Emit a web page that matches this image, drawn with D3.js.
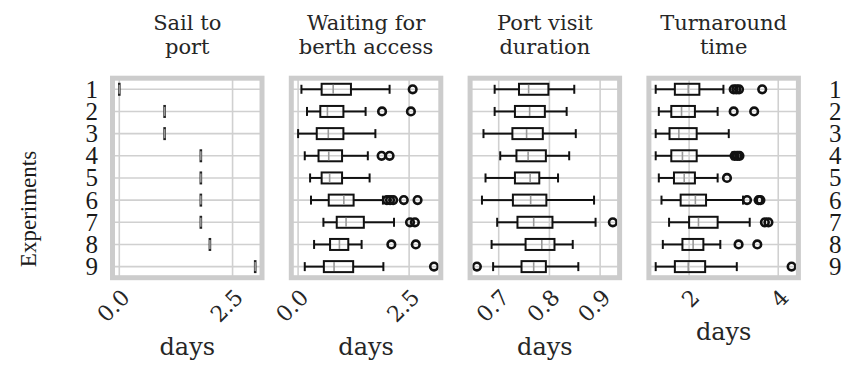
<!DOCTYPE html>
<html><head><meta charset="utf-8">
<script src="https://cdn.jsdelivr.net/npm/d3@7"></script>
<style>body{margin:0;background:#fff}</style>
</head><body><svg id="c" width="844" height="365"></svg>
<script>
const experiments = [1,2,3,4,5,6,7,8,9];
const panelTitles = [["Sail to","port"],["Waiting for","berth access"],["Port visit","duration"],["Turnaround","time"]];
const xLabel = "days";
const yLabel = "Experiments";

// Sail to port: constant per experiment
const sailToPort = [0.0, 1.0, 1.0, 1.8, 1.8, 1.8, 1.8, 2.0, 3.0];

// [whiskerLow, q1, median, q3, whiskerHigh]
const waitingStats = [
  [0.075,0.53,0.79,1.19,2.06],[0.20,0.50,0.66,1.02,1.52],[0.00,0.42,0.68,1.02,1.74],
  [0.15,0.46,0.69,0.99,1.57],[0.27,0.53,0.71,0.99,1.61],[0.29,0.69,1.03,1.25,1.91],
  [0.57,0.87,1.08,1.48,2.16],[0.36,0.72,0.93,1.13,1.43],[0.15,0.58,0.81,1.24,1.92]];
const waitingOutliers = [[2.58],[1.89,2.54],[],[1.88,2.06],[],[2.00,2.07,2.14,2.38,2.69],[2.52,2.63],[2.10,2.65],[3.06]];

const portStats = [
  [0.692,0.740,0.759,0.798,0.849],[0.692,0.732,0.761,0.791,0.834],[0.670,0.727,0.755,0.787,0.852],
  [0.703,0.735,0.758,0.793,0.839],[0.674,0.732,0.762,0.780,0.817],[0.667,0.728,0.763,0.794,0.888],
  [0.697,0.737,0.769,0.806,0.891],[0.686,0.753,0.785,0.810,0.846],[0.689,0.745,0.769,0.793,0.857]];
const portOutliers = [[],[],[],[],[],[],[0.925],[],[0.657]];

const turnStats = [
  [1.25,1.68,1.98,2.23,2.77],[1.32,1.60,1.83,2.13,2.64],[1.25,1.56,1.77,2.17,2.89],
  [1.25,1.60,1.85,2.17,2.97],[1.32,1.66,1.89,2.13,2.64],[1.38,1.81,2.14,2.38,3.21],
  [1.55,2.00,2.21,2.64,3.36],[1.41,1.85,2.09,2.32,2.70],[1.25,1.68,1.98,2.36,3.07]];
const turnOutliers = [[3.00,3.06,3.12,3.64],[3.00,3.46],[],[3.02,3.08,3.13],[2.85],[3.30,3.56,3.60],[3.70,3.78],[3.11,3.53],[4.30]];

const tickValues = [[0,2.5],[0,2.5],[0.7,0.8,0.9],[2,4]];
const tickLabels = [["0.0","2.5"],["0.0","2.5"],["0.7","0.8","0.9"],["2","4"]];

const panels = [
  {stats: sailToPort.map(v=>[v,v,v,v,v]), outliers: sailToPort.map(()=>[])},
  {stats: waitingStats, outliers: waitingOutliers},
  {stats: portStats, outliers: portOutliers},
  {stats: turnStats, outliers: turnOutliers}
];

const svg = d3.select("#c");
const W = 149.5, plotTop = 78.2, plotBottom = 277.7;
const lefts = [112.5, 291.3, 470.1, 648.9];
const y = d3.scaleLinear().domain([0.5, 9.5]).range([plotTop, plotBottom]);
const gridCol = "#d0d0d0", spineCol = "#cccccc", txt = "#262626";
const dv = "'DejaVu Serif', serif", lib = "'Liberation Serif', 'Times New Roman', serif";
const boxH = 5.5, capH = 4.5;

panels.forEach((p, i) => {
  const all = p.stats.flat().concat(p.outliers.flat());
  const [mn, mx] = d3.extent(all);
  const pad = (mx - mn) * 0.05;
  const x = d3.scaleLinear().domain([mn - pad, mx + pad]).range([lefts[i], lefts[i] + W]);
  const g = svg.append("g");
  g.selectAll(".hg").data(experiments).join("line")
    .attr("x1", lefts[i]).attr("x2", lefts[i] + W)
    .attr("y1", d => y(d)).attr("y2", d => y(d))
    .attr("stroke", gridCol).attr("stroke-width", 1.6);
  g.selectAll(".vg").data(tickValues[i]).join("line")
    .attr("x1", d => x(d)).attr("x2", d => x(d))
    .attr("y1", plotTop).attr("y2", plotBottom)
    .attr("stroke", gridCol).attr("stroke-width", 1.6);
  p.stats.forEach((s, k) => {
    const yc = y(experiments[k]);
    const [wl, q1, md, q3, wh] = s;
    const b = g.append("g");
    if (q1 === q3) {
      b.append("line").attr("x1", x(q1)).attr("x2", x(q1)).attr("y1", yc - boxH - 1).attr("y2", yc + boxH + 1)
        .attr("stroke", "#222").attr("stroke-width", 2.6);
      b.append("line").attr("x1", x(md)).attr("x2", x(md)).attr("y1", yc - boxH + 1).attr("y2", yc + boxH - 1)
        .attr("stroke", "#999").attr("stroke-width", 1.6);
      return;
    }
    b.append("line").attr("x1", x(wl)).attr("x2", x(q1)).attr("y1", yc).attr("y2", yc).attr("stroke", "#111").attr("stroke-width", 2);
    b.append("line").attr("x1", x(q3)).attr("x2", x(wh)).attr("y1", yc).attr("y2", yc).attr("stroke", "#111").attr("stroke-width", 2);
    [wl, wh].forEach(v => b.append("line").attr("x1", x(v)).attr("x2", x(v)).attr("y1", yc - capH).attr("y2", yc + capH).attr("stroke", "#111").attr("stroke-width", 2));
    b.append("rect").attr("x", x(q1)).attr("y", yc - boxH).attr("width", x(q3) - x(q1)).attr("height", 2 * boxH)
      .attr("fill", "none").attr("stroke", "#111").attr("stroke-width", 2);
    b.append("line").attr("x1", x(md)).attr("x2", x(md)).attr("y1", yc - boxH + 1).attr("y2", yc + boxH - 1)
      .attr("stroke", "#999").attr("stroke-width", 1.6);
    b.selectAll("circle").data(p.outliers[k]).join("circle")
      .attr("cx", d => x(d)).attr("cy", yc).attr("r", 3.8)
      .attr("fill", "none").attr("stroke", "#111").attr("stroke-width", 2.6);
  });
  g.append("rect").attr("x", lefts[i]).attr("y", plotTop).attr("width", W).attr("height", plotBottom - plotTop)
    .attr("fill", "none").attr("stroke", spineCol).attr("stroke-width", 5);
  const cx = lefts[i] + W / 2;
  panelTitles[i].forEach((t, j) => {
    g.append("text").attr("x", cx).attr("y", 30 + j * 23.5).attr("text-anchor", "middle")
      .attr("font-family", dv).attr("font-size", 21).attr("fill", txt).text(t);
  });
  let maxBottom = 0;
  tickValues[i].forEach((v, j) => {
    const tg = g.append("g").attr("transform", `translate(${x(v)},287) rotate(-45)`);
    const t = tg.append("text").attr("text-anchor", "end").attr("dy", "0.76em")
      .attr("font-family", dv).attr("font-size", 22).attr("fill", txt).text(tickLabels[i][j]);
    const r = t.node().getBoundingClientRect();
    maxBottom = Math.max(maxBottom, r.bottom);
  });
  g.append("text").attr("x", cx).attr("y", maxBottom + 28).attr("text-anchor", "middle")
    .attr("font-family", dv).attr("font-size", 24).attr("fill", txt).text(xLabel);
});

svg.selectAll(".yl").data(experiments).join("text")
  .attr("x", 98).attr("y", d => y(d)).attr("dy", "0.34em").attr("text-anchor", "end")
  .attr("font-family", lib).attr("font-size", 25).attr("fill", "#1a1a1a").text(d => d);
svg.selectAll(".yr").data(experiments).join("text")
  .attr("x", 829).attr("y", d => y(d)).attr("dy", "0.34em").attr("text-anchor", "start")
  .attr("font-family", lib).attr("font-size", 25).attr("fill", "#1a1a1a").text(d => d);
svg.append("text").attr("transform", "translate(36,209) rotate(-90)").attr("text-anchor", "middle")
  .attr("font-family", lib).attr("font-size", 23).attr("fill", "#1a1a1a").text(yLabel);
</script></body></html>
